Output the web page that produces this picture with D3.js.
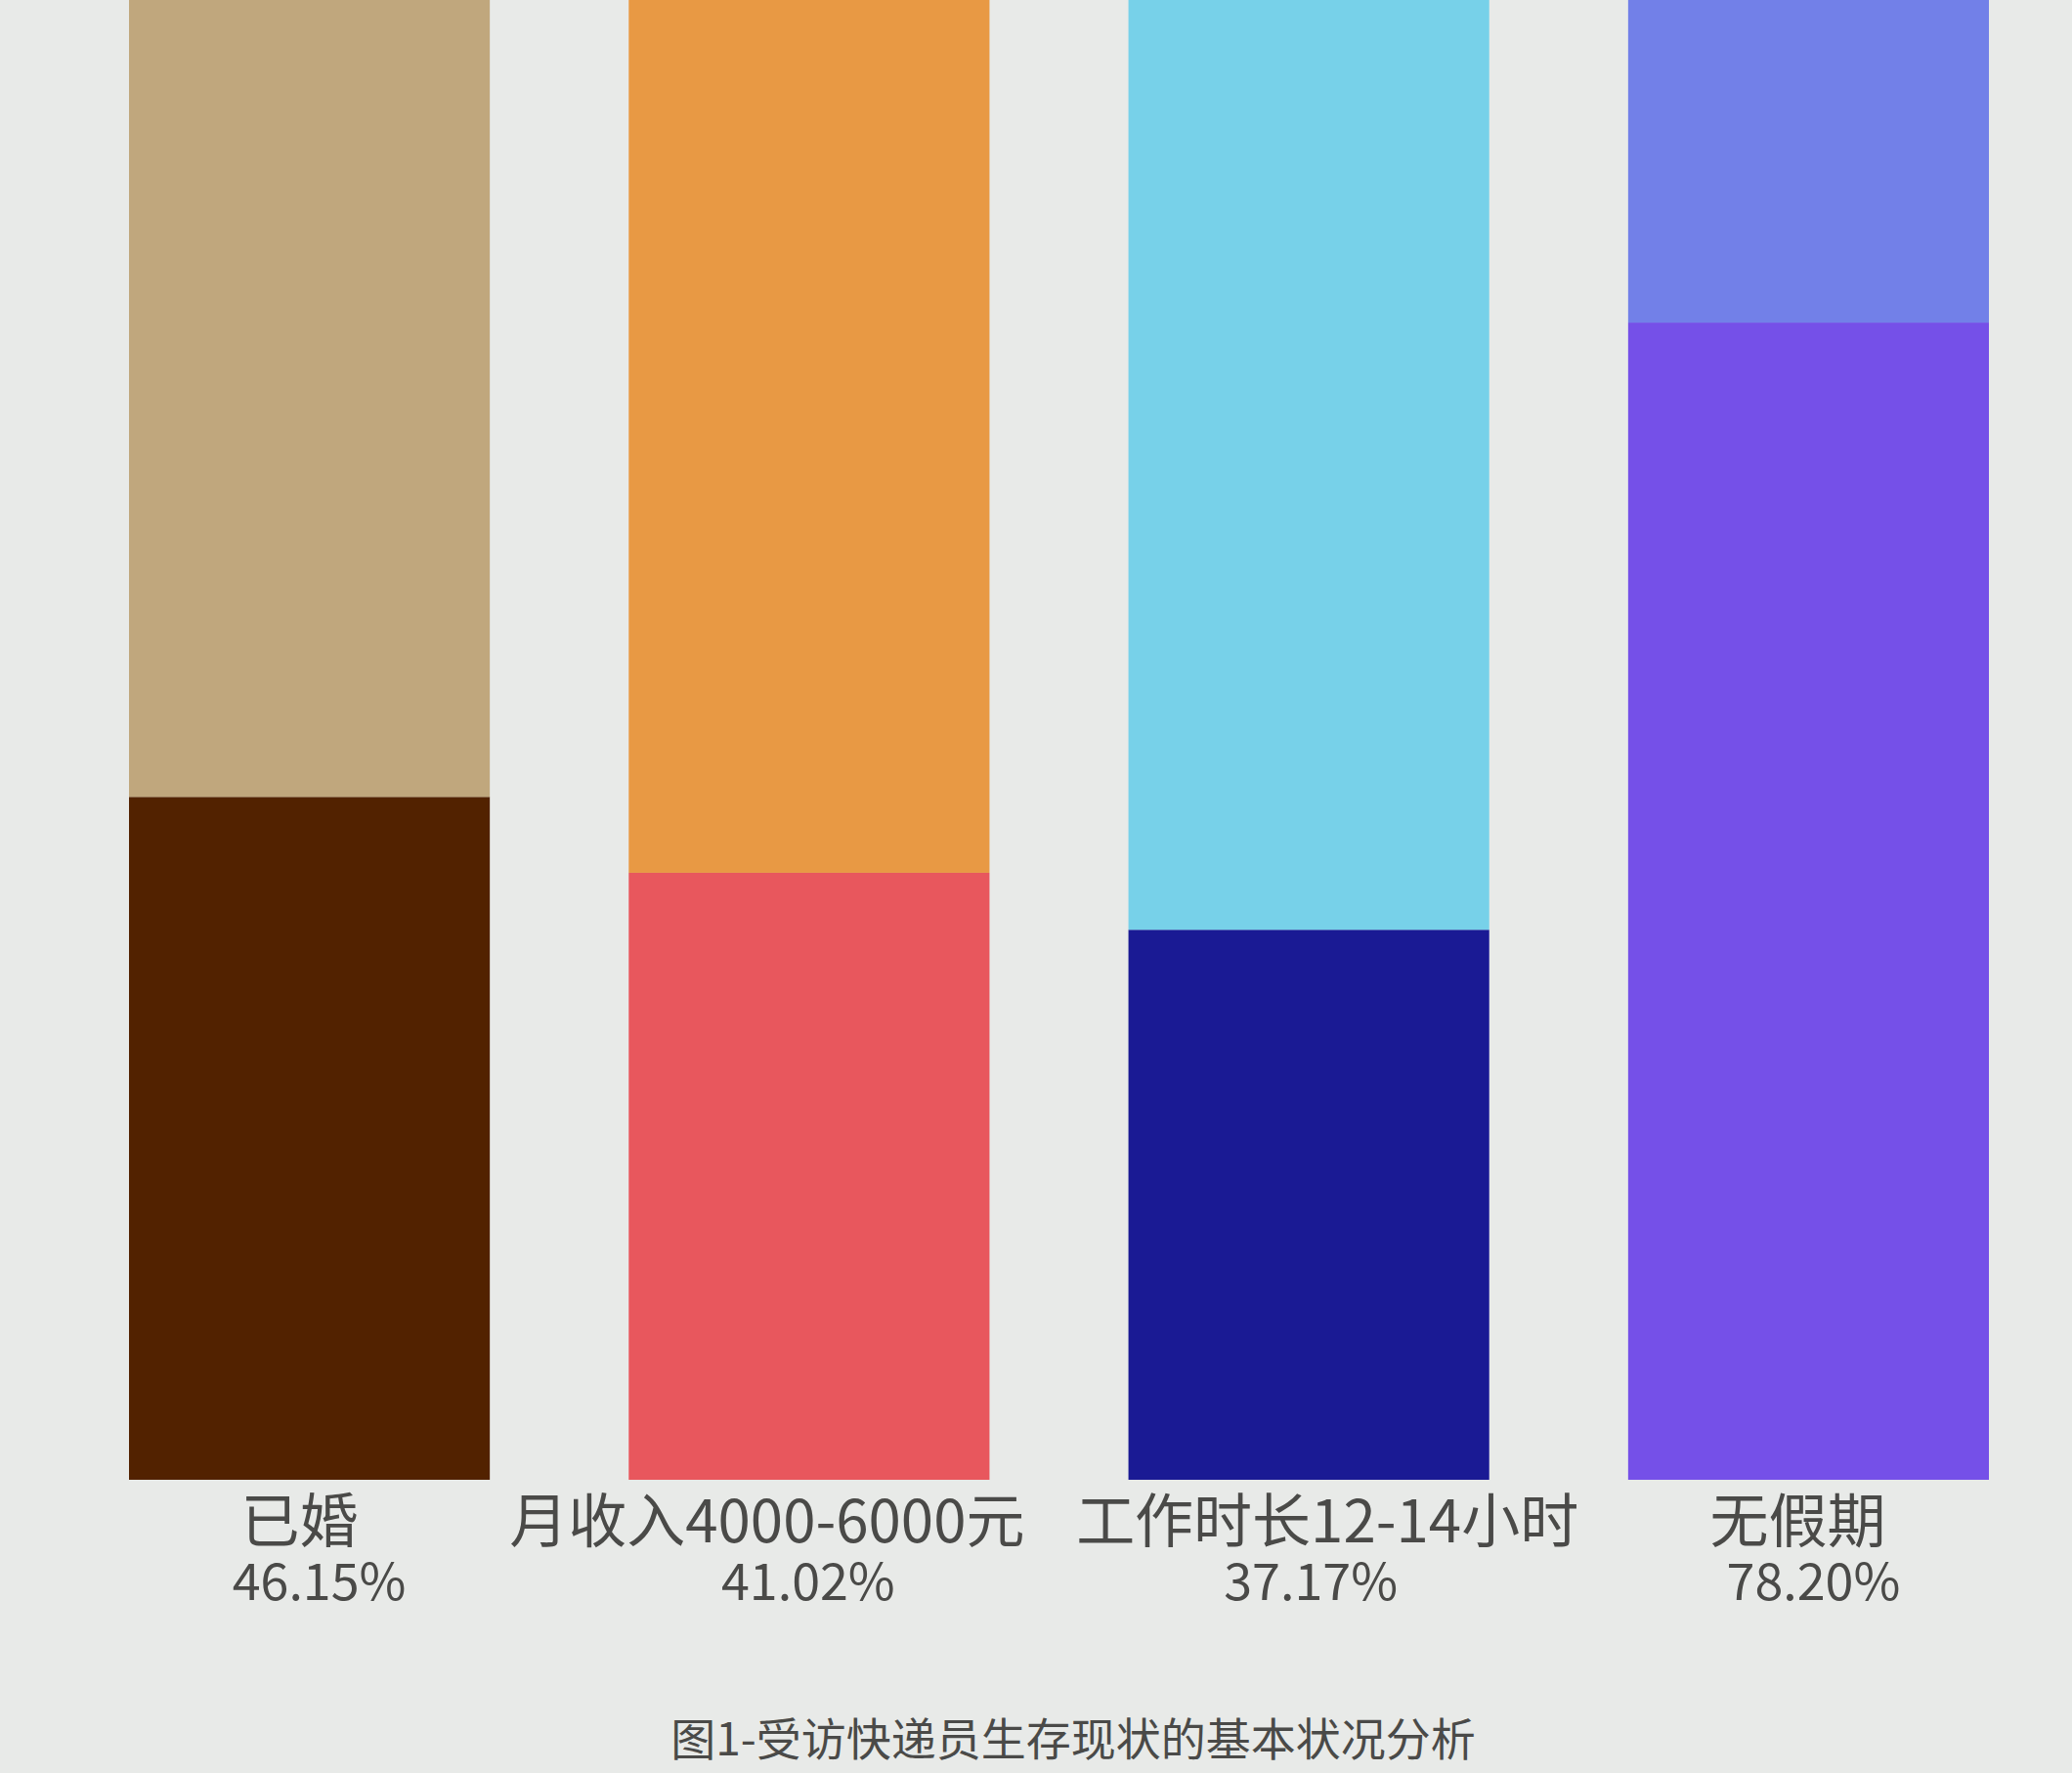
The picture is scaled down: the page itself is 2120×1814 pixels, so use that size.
<!DOCTYPE html>
<html>
<head>
<meta charset="utf-8">
<script src="https://d3js.org/d3.v7.min.js"></script>
<style>
  html, body { margin: 0; padding: 0; background: #e8eae8; }
  svg { display: block; }
</style>
</head>
<body>
<script>
// categories and the share (in %) shown under each bar
var categories = ["已婚", "月收入4000-6000元", "工作时长12-14小时", "无假期"];
var shares = [46.15, 41.02, 37.17, 78.20];
var title = "图1-受访快递员生存现状的基本状况分析";

// colours: lower (the share) and upper (the rest of 100%) part of each bar
var darkColors = ["#522200", "#e8575d", "#1a1a94", "#7550e8"];
var lightColors = ["#c0a77d", "#e89944", "#77d1e9", "#7280e8"];

// horizontal nudge of the texts under each bar (the source did not centre them exactly)
var labelNudge = [-10, -43, 19, -11];
var pctNudge = [10, -1, 2, 5];

var w = 2120;
var h = 1814;
var baseY = 1514;

var svg = d3.select("body")
            .append("svg")
            .attr("width", w)
            .attr("height", h);

svg.append("rect")
   .attr("width", w)
   .attr("height", h)
   .attr("fill", "#e8eae8");

var rows = categories.map(function(c, i) {
  return { cat: c, share: shares[i], rest: 100 - shares[i], i: i };
});

var stacked = d3.stack().keys(["share", "rest"])(rows);

var x = d3.scaleBand()
          .domain(categories)
          .range([132, 2035])
          .paddingInner(0.278)
          .paddingOuter(0);

var y = d3.scaleLinear()
          .domain([0, 100])
          .range([baseY, 0]);

svg.selectAll("g.layer")
   .data(stacked)
   .enter()
   .append("g")
   .attr("class", "layer")
   .selectAll("rect")
   .data(function(layer) {
     return layer.map(function(d) { return { d: d, key: layer.key }; });
   })
   .enter()
   .append("rect")
   .attr("x", function(e) { return x(e.d.data.cat); })
   .attr("width", x.bandwidth())
   .attr("y", function(e) { return y(e.d[1]); })
   .attr("height", function(e) { return y(e.d[0]) - y(e.d[1]); })
   .attr("fill", function(e) {
     return e.key === "share" ? darkColors[e.d.data.i] : lightColors[e.d.data.i];
   });

var font = "'Noto Sans CJK SC', 'Microsoft YaHei', sans-serif";

// category labels
svg.selectAll("text.cat")
   .data(rows)
   .enter()
   .append("text")
   .attr("class", "cat")
   .attr("x", function(d) { return x(d.cat) + x.bandwidth() / 2 + labelNudge[d.i]; })
   .attr("y", 1578)
   .attr("text-anchor", "middle")
   .attr("font-family", font)
   .attr("font-size", 60)
   .attr("fill", "#4a4a48")
   .text(function(d) { return d.cat; });

// percentages
svg.selectAll("text.pct")
   .data(rows)
   .enter()
   .append("text")
   .attr("class", "pct")
   .attr("x", function(d) { return x(d.cat) + x.bandwidth() / 2 + pctNudge[d.i]; })
   .attr("y", 1637)
   .attr("text-anchor", "middle")
   .attr("font-family", font)
   .attr("font-size", 52)
   .attr("fill", "#4a4a48")
   .text(function(d) { return d.share.toFixed(2) + "%"; });

// caption
svg.append("text")
   .attr("x", 1098)
   .attr("y", 1796)
   .attr("text-anchor", "middle")
   .attr("font-family", font)
   .attr("font-size", 46)
   .attr("fill", "#4a4a48")
   .text(title);
</script>
</body>
</html>
